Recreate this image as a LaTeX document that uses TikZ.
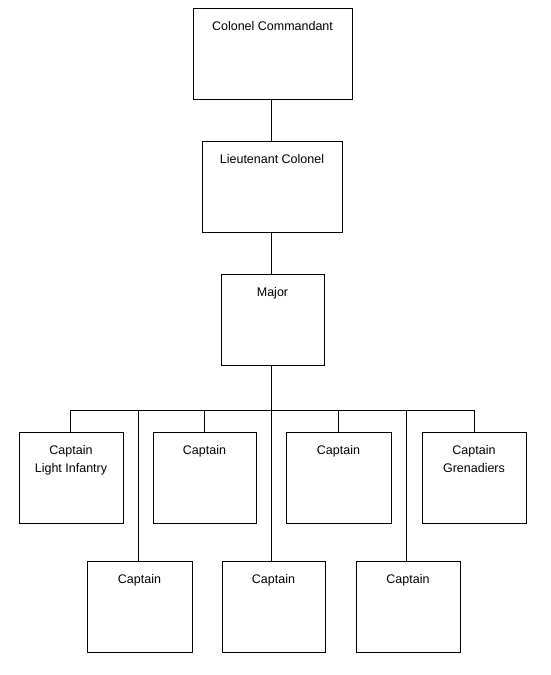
\documentclass[tikz,border=0pt]{standalone}
\usepackage{fontspec}
\setmainfont{Liberation Sans}
\usetikzlibrary{calc}
\begin{document}
\begin{tikzpicture}[x=1pt,y=-1pt,
  box/.style={draw=black,line width=1pt,fill=white,minimum height=91pt,inner sep=0pt},
  lbl/.style={anchor=base,inner sep=0pt,font=\fontsize{12.5}{18}\selectfont,align=center},
  conn/.style={draw=black,line width=1pt}]
\useasboundingbox[fill=white] (0,0) rectangle (550,675);
\coordinate (bus) at (0,410);
\node[box,minimum width=159pt] (cc) at (272.5,53.5) {};
\node[box,minimum width=140pt] (lc) at (272,186.5) {};
\node[box,minimum width=103pt] (mj) at (272.5,319.5) {};
\node[box,minimum width=104pt] (c1) at (71,477.5) {};
\node[box,minimum width=103pt] (c2) at (204.5,477.5) {};
\node[box,minimum width=105pt] (c3) at (338.5,477.5) {};
\node[box,minimum width=104pt] (c4) at (474,477.5) {};
\node[box,minimum width=105pt] (d1) at (139.5,606.5) {};
\node[box,minimum width=103pt] (d2) at (273.5,606.5) {};
\node[box,minimum width=104pt] (d3) at (408,606.5) {};
\node[lbl] (tcc) at ($(cc.north)+(0,23)$) {Colonel Commandant};
\node[lbl] (tlc) at ($(lc.north)+(0,23)$) {Lieutenant Colonel};
\node[lbl] (tmj) at ($(mj.north)+(0,23)$) {Major};
\node[lbl] (tc1) at ($(c1.north)+(0,41)$) {Captain\\Light Infantry};
\node[lbl] (tc2) at ($(c2.north)+(0,23)$) {Captain};
\node[lbl] (tc3) at ($(c3.north)+(0,23)$) {Captain};
\node[lbl] (tc4) at ($(c4.north)+(0,41)$) {Captain\\Grenadiers};
\node[lbl] (td1) at ($(d1.north)+(0,23)$) {Captain};
\node[lbl] (td2) at ($(d2.north)+(0,23)$) {Captain};
\node[lbl] (td3) at ($(d3.north)+(0,23)$) {Captain};
\draw[conn] ([xshift=-1pt]cc.south) -- ([xshift=-1pt]cc.south |- lc.north);
\draw[conn] ([xshift=-1pt]lc.south) -- ([xshift=-1pt]lc.south |- mj.north);
\draw[conn] ([xshift=-1pt]mj.south) -- ([xshift=-1pt]mj.south |- d2.north);
\draw[conn] ([xshift=-1pt]c1.north) |- (bus -| c4.north) -- (c4.north);
\draw[conn] (c2.north) -- (c2.north |- bus);
\draw[conn] (c3.north) -- (c3.north |- bus);
\draw[conn] ([xshift=-1pt]d1.north) -- ([xshift=-1pt]d1.north |- bus);
\draw[conn] ([xshift=-2pt]d3.north) -- ([xshift=-2pt]d3.north |- bus);
\end{tikzpicture}
\end{document}
